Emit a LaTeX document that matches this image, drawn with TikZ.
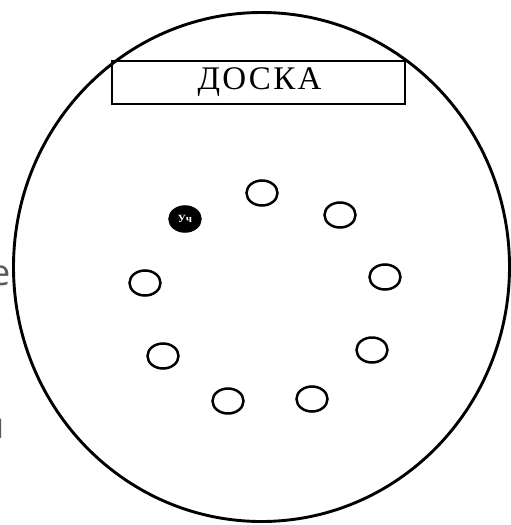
\documentclass[tikz,border=0pt]{standalone}
\usepackage{fontspec}
\setmainfont{Liberation Serif}
\newfontfamily\fragfont{Open Sans}
\usetikzlibrary{shapes.geometric, positioning}

\begin{document}
\begin{tikzpicture} [
    x=1pt, y=-1pt,
    room/.style={draw, line width=2.9pt},
    board/.style={rectangle, draw, line width=2.8pt, minimum width=293pt, minimum height=43pt, inner sep=0pt, font=\fontsize{33}{35}\selectfont\addfontfeatures{LetterSpace=7}},
    seat/.style={ellipse, draw, line width=2.5pt, minimum width=31pt, minimum height=25pt, inner sep=0pt},
    teacher/.style={seat, fill=black, text=white, font=\fontsize{11}{11}\selectfont\bfseries},
    frag/.style={inner sep=0pt, text=black!65, font=\fragfont\fontsize{36}{38}\selectfont}
]
    \useasboundingbox (0,0) rectangle (511,525);
    \clip (0,0) rectangle (511,525);

    % Room
    \draw[room] (261.5,267) ellipse [x radius=248, y radius=254.5];

    % Nodes
    \node[board] (board) at (258.5,82.5) {\hspace{2pt}ДОСКА};
    \node[teacher] (teacher) at (185,219) {Уч};
    \node[seat] (seat1) at (262,193) {};
    \node[seat] (seat2) at (340,215) {};
    \node[seat] (seat3) at (385,277) {};
    \node[seat] (seat4) at (372,350) {};
    \node[seat] (seat5) at (312,399) {};
    \node[seat] (seat6) at (228,401) {};
    \node[seat] (seat7) at (163,356) {};
    \node[seat] (seat8) at (145,283) {};

    % Cut-off text of the page
    \node[frag, anchor=east] (frag_e) at (10.5,276) {е};
    \node[frag, anchor=east] (frag_ya) at (4.5,429) {я};

\end{tikzpicture}
\end{document}
